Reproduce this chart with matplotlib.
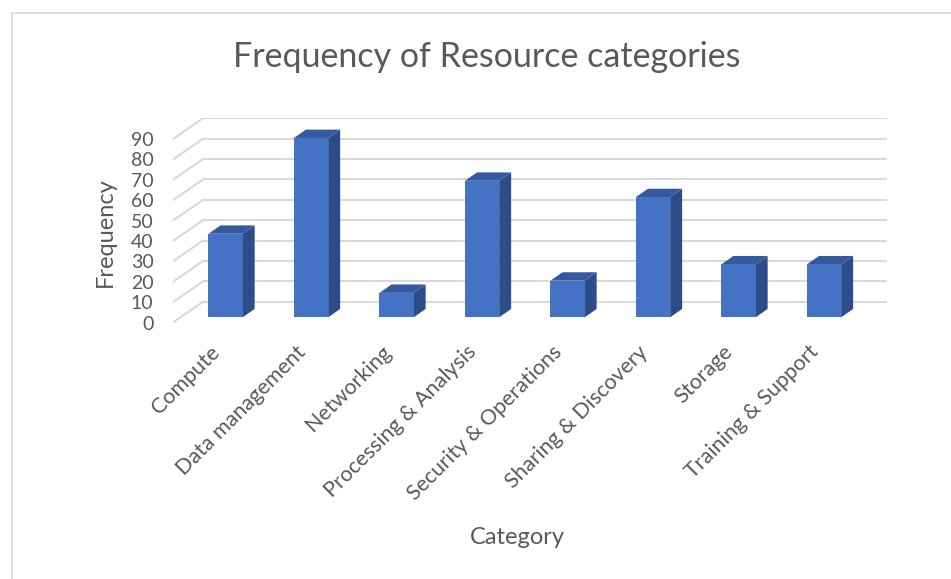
import numpy as np
import matplotlib.pyplot as plt
from matplotlib.patches import Polygon

categories = ["Compute", "Data management", "Networking", "Processing & Analysis",
              "Security & Operations", "Sharing & Discovery", "Storage", "Training & Support"]
frequency = [41, 88, 12, 67, 18, 59, 26, 26]
yticks = list(range(0, 100, 10))

plt.rcParams['font.family'] = ['Lato', 'DejaVu Sans']
txt = '#595959'
grid_c = '#d9d9d9'

# fake 3D: depth of the whole box and of the columns (data units)
DX, DY = 0.351, 10.2      # back wall offset
BX, BY = 0.115, 2.55      # column front face offset from front plane
DDX, DDY = 0.14, 4.1      # column depth
W = 0.40

fig = plt.figure(figsize=(9.51, 5.79), dpi=100)
ax = fig.add_axes([173/951, 1-322.5/579, 714/951, 204.2/579])
n = len(categories)
ax.set_xlim(-0.5, n - 0.5 + DX)
ax.set_ylim(0, 90 + DY)

# back wall and side wall gridlines
for g in yticks:
    ax.plot([-0.5 + DX, n - 0.5 + DX], [g + DY, g + DY], color=grid_c, lw=1.5, zorder=1,
            solid_capstyle='butt')
    ax.plot([-0.5, -0.5 + DX], [g, g + DY], color=grid_c, lw=1.5, zorder=1)

x = np.arange(n)
bars = ax.bar(x + BX, frequency, width=W, bottom=BY, color='#4472C4', zorder=3)
for b, v in zip(bars, frequency):
    x0 = b.get_x()
    x1 = x0 + b.get_width()
    top = BY + v
    side = Polygon([(x1, BY), (x1 + DDX, BY + DDY), (x1 + DDX, top + DDY), (x1, top)],
                   closed=True, color='#2c4d8a', zorder=2.9, lw=0)
    lid = Polygon([(x0, top), (x1, top), (x1 + DDX, top + DDY), (x0 + DDX, top + DDY)],
                  closed=True, color='#34599e', zorder=2.9, lw=0)
    ax.add_patch(side)
    ax.add_patch(lid)

for s in ax.spines.values():
    s.set_visible(False)
ax.set_yticks(yticks)
ax.set_yticklabels([str(t) for t in yticks], color=txt, fontsize=14)
ax.tick_params(axis='y', length=0, pad=14)
ax.set_xticks(x - 0.07)
ax.set_xticklabels(categories, rotation=45, ha='right', va='top', rotation_mode='anchor',
                   color=txt, fontsize=15.5)
ax.tick_params(axis='x', length=0, pad=14)

fig.text(105/951, 1-232/579, 'Frequency', rotation=90, ha='center', va='center',
         color=txt, fontsize=17)
fig.text(517/951, 1-537/579, 'Category', ha='center', va='center', color=txt, fontsize=17)
fig.text(487/951, 1-57/579, 'Frequency of Resource categories', ha='center', va='center',
         color=txt, fontsize=24.5)

# chart border
fig.add_artist(plt.Line2D([12/951, 1], [1-13/579, 1-13/579], color=grid_c, lw=1.2))
fig.add_artist(plt.Line2D([12/951, 12/951], [0, 1-13/579], color=grid_c, lw=1.2))

fig.savefig('out.png', dpi=100)
